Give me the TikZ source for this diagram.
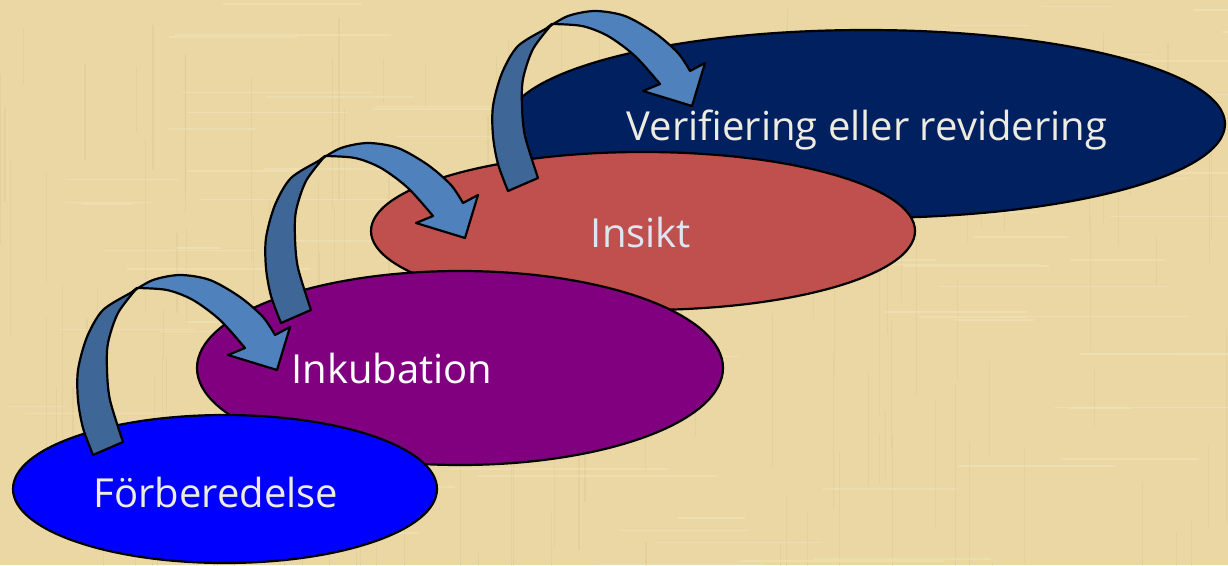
\documentclass[tikz,border=0pt]{standalone}
\usepackage{fontspec}
\setmainfont{Open Sans}
\definecolor{parch}{HTML}{EAD7A3}
\definecolor{parchD}{HTML}{D9C38A}
\definecolor{parchL}{HTML}{F3E6BE}
\definecolor{blueE}{HTML}{0000FF}
\definecolor{purpleE}{HTML}{800080}
\definecolor{redE}{HTML}{C0504D}
\definecolor{navyE}{HTML}{002060}
\definecolor{arrLight}{HTML}{4F81BD}
\definecolor{arrDark}{HTML}{3E6696}
\definecolor{txtA}{HTML}{EEECE1}
\definecolor{txtB}{HTML}{DCE6F2}
\tikzset{
  stage/.style={draw=black, line width=2.2pt},
  lbl/.style={anchor=base, inner sep=0pt, font=\fontsize{40}{48}\selectfont},
  arrlight/.style={fill=arrLight, draw=black, line width=2.2pt, line join=round},
  arrdark/.style={fill=arrDark, draw=black, line width=2.2pt, line join=round},
}
\newcommand{\curvedarrow}{%
  \filldraw[arrlight] plot[smooth] coordinates {(132,292) (153,280) (180,275) (210,280) (240,297) (263,317) (275,335)}
     -- (290,327) -- (277,370) -- (228,355)
     -- plot[smooth] coordinates {(245,348) (220,320) (193,300) (167,290) (137,288)} -- cycle;
  \filldraw[arrdark] plot[smooth] coordinates {(93,455) (83,428) (78,400) (78,370) (87,337) (103,310) (132,292) (137,288)}
     -- plot[smooth] coordinates {(137,288) (118,313) (108,343) (107,370) (110,400) (123,442)} -- cycle;
}
\begin{document}
\begin{tikzpicture}[x=1pt,y=-1pt]
\useasboundingbox (0,0) rectangle (1228,565);
\begin{scope}
\clip (0,0) rectangle (1228,565);
\fill[parch] (0,0) rectangle (1228,565);
% faint parchment texture
\pgfmathsetseed{7}
\foreach \i in {1,...,140}{
  \pgfmathsetmacro{\xx}{rnd*1228}
  \pgfmathsetmacro{\yy}{rnd*565}
  \pgfmathsetmacro{\ll}{40+rnd*160}
  \draw[parchD, opacity=0.35, line width=1.2pt] (\xx,\yy) -- ++(0,\ll);
}
\foreach \i in {1,...,100}{
  \pgfmathsetmacro{\xx}{rnd*1228}
  \pgfmathsetmacro{\yy}{rnd*565}
  \pgfmathsetmacro{\ll}{40+rnd*200}
  \draw[parchL, opacity=0.45, line width=1.5pt] (\xx,\yy) -- ++(\ll,0);
}
\end{scope}
% stages, back to front
\filldraw[stage, fill=navyE] (866,124) ellipse [x radius=359, y radius=94];
\filldraw[stage, fill=redE] (643,231) ellipse [x radius=272, y radius=79];
\filldraw[stage, fill=purpleE] (460,368) ellipse [x radius=263, y radius=97];
\filldraw[stage, fill=blueE] (225,489) ellipse [x radius=212, y radius=74];
\node[lbl, text=txtA] (verif) at (867,140) {Verifiering eller revidering};
\node[lbl, text=txtB] (insikt) at (641,247) {Insikt};
\node[lbl, text=white] (inkub) at (392,383) {Inkubation};
\node[lbl, text=txtA] (forb) at (216,507) {Förberedelse};
% arrows
\curvedarrow
\begin{scope}[shift={(188,-132)}]\curvedarrow\end{scope}
\begin{scope}[shift={(415,-264)}]\curvedarrow\end{scope}
\end{tikzpicture}
\end{document}
